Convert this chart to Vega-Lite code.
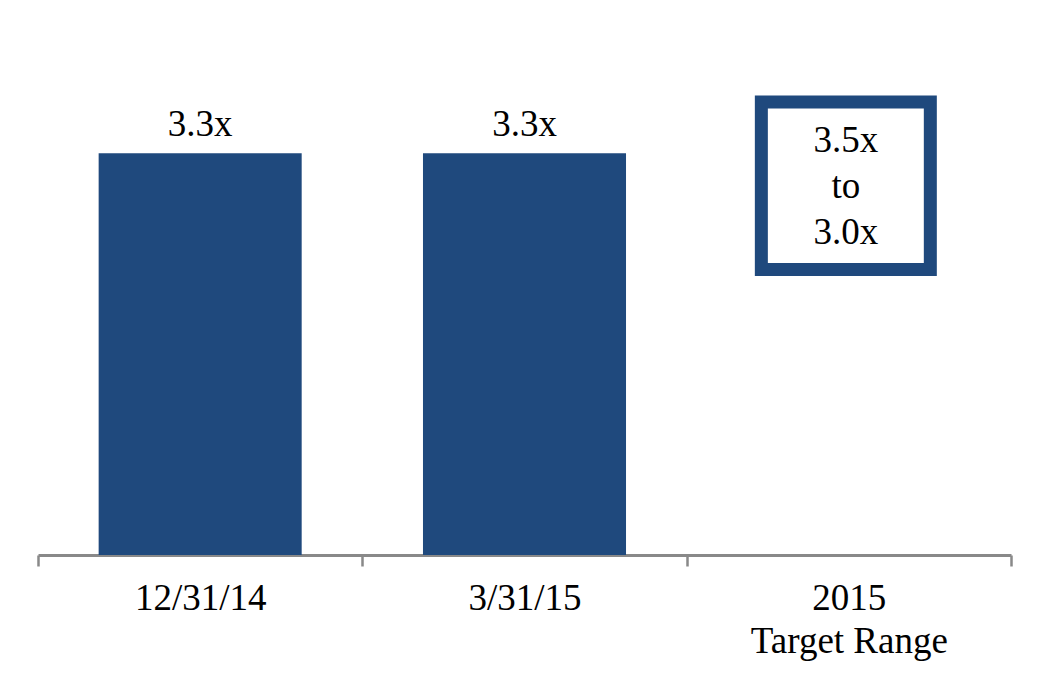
{
  "$schema": "https://vega.github.io/schema/vega-lite/v6.json",
  "autosize": "none",
  "width": 973,
  "height": 548,
  "padding": {"left": 38, "top": 7, "right": 39, "bottom": 135},
  "background": "white",
  "config": {"view": {"stroke": null}, "font": "Times New Roman, Liberation Serif, serif"},
  "data": {"values": [
    {"period": "12/31/14", "ratio": 3.3, "label": "3.3x"},
    {"period": "3/31/15", "ratio": 3.3, "label": "3.3x"},
    {"period": "2015", "low": 3.0, "high": 3.5, "label": "3.5x\nto\n3.0x"}
  ]},
  "encoding": {
    "x": {
      "field": "period", "type": "nominal",
      "sort": ["12/31/14", "3/31/15", "2015"],
      "scale": {"paddingInner": 0, "paddingOuter": 0},
      "axis": {
        "title": null, "labelAngle": 0, "grid": false,
        "domainColor": "#898989", "domainWidth": 3,
        "tickColor": "#898989", "tickWidth": 2.5, "tickSize": 11, "tickBand": "extent",
        "labelFont": "Times New Roman, Liberation Serif, serif", "labelFontSize": 37, "labelColor": "#000000",
        "labelBaseline": "alphabetic", "labelPadding": 43, "labelLineHeight": 43,
        "labelLimit": 0, "labelOverlap": false,
        "labelExpr": "datum.value == '2015' ? ['2015', 'Target Range'] : datum.value"
      }
    }
  },
  "layer": [
    {
      "transform": [{"filter": "datum.ratio != null"}],
      "mark": {"type": "bar", "color": "#1F497D", "width": {"band": 0.626}},
      "encoding": {
        "y": {"field": "ratio", "type": "quantitative", "scale": {"domain": [0, 4.5]}, "axis": null}
      }
    },
    {
      "transform": [{"filter": "datum.ratio != null"}],
      "mark": {"type": "text", "baseline": "alphabetic", "dy": -17, "fontSize": 37, "font": "Times New Roman, Liberation Serif, serif", "color": "#000000"},
      "encoding": {
        "y": {"field": "ratio", "type": "quantitative"},
        "text": {"field": "label"}
      }
    },
    {
      "transform": [{"filter": "datum.period == '2015'"}],
      "mark": {"type": "bar", "fill": "white", "stroke": "#1F497D", "strokeWidth": 13, "width": {"band": 0.521}, "xOffset": -3},
      "encoding": {
        "y": {"datum": 3.72, "type": "quantitative"},
        "y2": {"datum": 2.345}
      }
    },
    {
      "transform": [{"filter": "datum.period == '2015'"}],
      "mark": {"type": "text", "baseline": "alphabetic", "lineBreak": "\n", "lineHeight": 46, "fontSize": 37, "font": "Times New Roman, Liberation Serif, serif", "color": "#000000", "xOffset": -3},
      "encoding": {
        "y": {"datum": 3.31, "type": "quantitative"},
        "text": {"field": "label"}
      }
    }
  ]
}
